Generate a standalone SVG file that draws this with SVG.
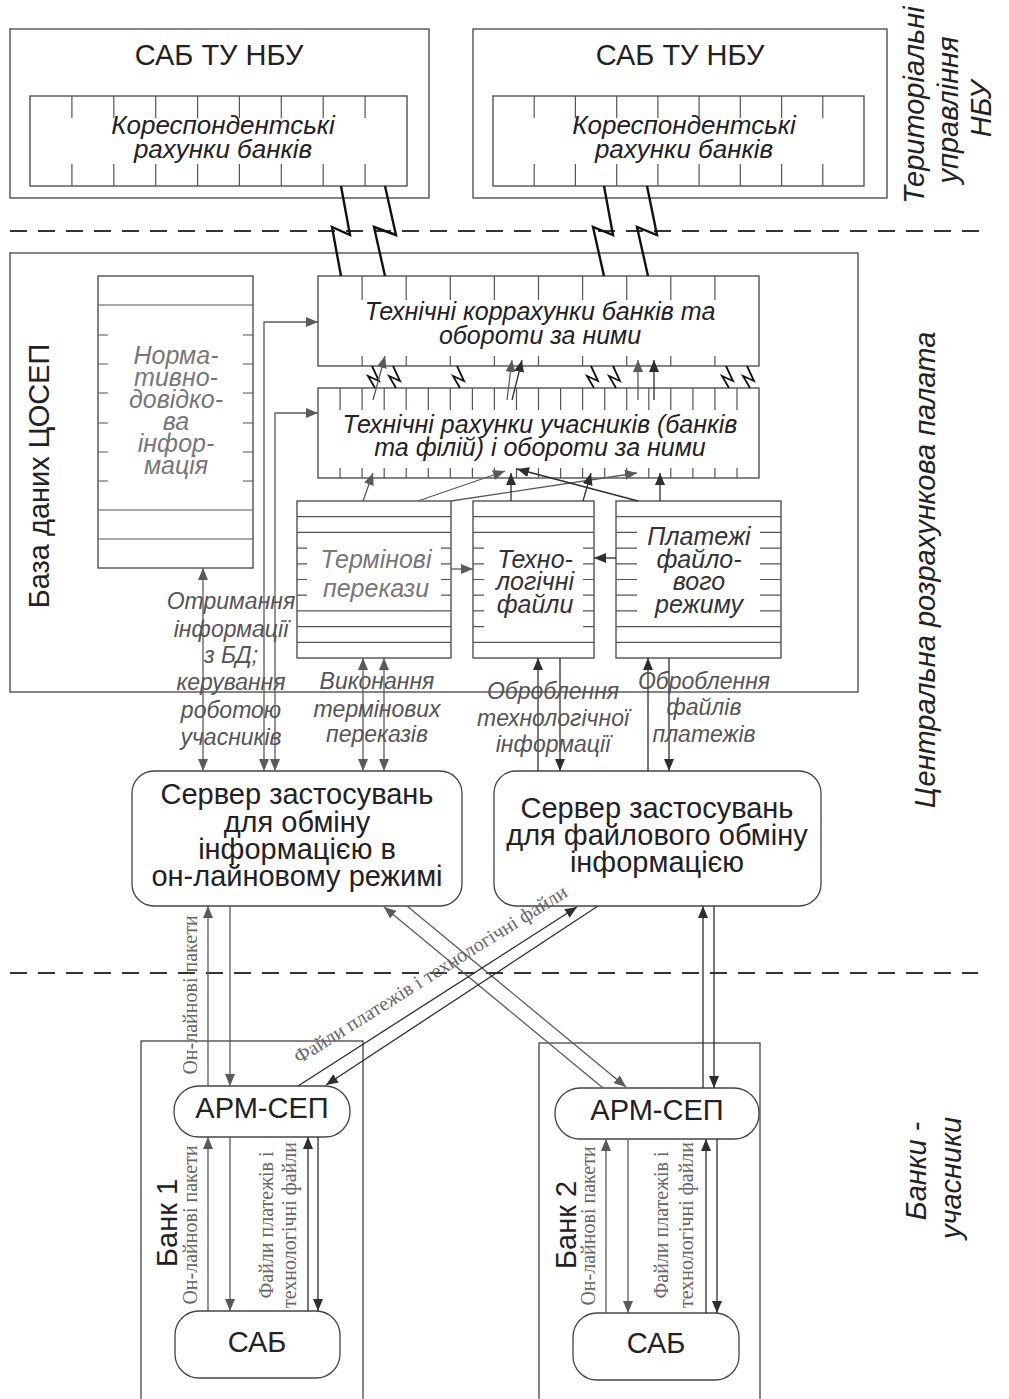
<svg xmlns="http://www.w3.org/2000/svg" width="1009" height="1399" viewBox="0 0 1009 1399">
<style>
.bx{fill:none;stroke:#444;stroke-width:1.3}
.bxw{fill:#fff;stroke:#444;stroke-width:1.3}
.tk{fill:none;stroke:#555;stroke-width:1.2}
.sans{font-family:"Liberation Sans",Arial,sans-serif}
.serif{font-family:"Liberation Serif","Times New Roman",serif;font-size:20px;fill:#666}
.it{font-style:italic}
.c{text-anchor:middle}
.big{font-size:29px;fill:#222}
.side{font-size:29px;fill:#222;font-style:italic}
.tech{font-size:25px;fill:#222;font-style:italic}
.grey{font-size:25px;fill:#777;font-style:italic}
.dark{font-size:25px;fill:#333;font-style:italic}
.lbl{font-size:23px;fill:#555;font-style:italic}
.cg{fill:none;stroke:#5a5a5a;stroke-width:1.3}
.cd{fill:none;stroke:#2e2e2e;stroke-width:1.3}
.bolt{fill:none;stroke:#111;stroke-width:2.4;stroke-linejoin:miter}
.bolts{fill:none;stroke:#111;stroke-width:1.8;stroke-linejoin:miter}
.dash{stroke:#333;stroke-width:2;stroke-dasharray:17 11}
</style>
<defs>
<marker id="ag" markerUnits="userSpaceOnUse" markerWidth="12" markerHeight="10" viewBox="0 0 12 10" refX="12" refY="5" orient="auto-start-reverse"><path d="M0,0 L12,5 L0,10 z" fill="#5a5a5a"/></marker>
<marker id="ad" markerUnits="userSpaceOnUse" markerWidth="12" markerHeight="10" viewBox="0 0 12 10" refX="12" refY="5" orient="auto-start-reverse"><path d="M0,0 L12,5 L0,10 z" fill="#2e2e2e"/></marker>
</defs>
<rect width="1009" height="1399" fill="#fff"/>

<!-- zone separators -->
<g id="separators">
<line class="dash" x1="10" y1="231" x2="982" y2="231"/>
<line class="dash" x1="10" y1="973" x2="978" y2="973"/>
</g>

<!-- zone labels -->
<g id="zone-labels" class="sans">
<text class="side c" transform="translate(924,105) rotate(-90)">Територіальні</text>
<text class="side c" transform="translate(958,110) rotate(-90)">управління</text>
<text class="side c" transform="translate(991,109) rotate(-90)">НБУ</text>
<text class="side c" transform="translate(935,570) rotate(-90)">Центральна розрахункова палата</text>
<text class="side c" transform="translate(926,1171) rotate(-90)">Банки -</text>
<text class="side c" transform="translate(961,1178) rotate(-90)">учасники</text>
</g>

<!-- NBU territorial boxes -->
<g id="sab-tu-1">
<rect class="bx" x="10" y="29" width="419" height="169"/>
<text class="sans big c" x="219" y="65">САБ ТУ НБУ</text>
<rect class="bx" x="30" y="96" width="377" height="90"/>
<path class="tk" d="M71.9,96V118M71.9,164V186M113.8,96V118M113.8,164V186M155.7,96V118M155.7,164V186M197.6,96V118M197.6,164V186M239.4,96V118M239.4,164V186M281.3,96V118M281.3,164V186M323.2,96V118M323.2,164V186M365.1,96V118M365.1,164V186"/>
<text class="sans it c" font-size="26" fill="#222" x="223" y="134">Кореспондентські</text>
<text class="sans it c" font-size="26" fill="#222" x="223" y="158">рахунки банків</text>
</g>
<g id="sab-tu-2">
<rect class="bx" x="473" y="29" width="414" height="169"/>
<text class="sans big c" x="680" y="65">САБ ТУ НБУ</text>
<rect class="bx" x="493" y="96" width="371" height="90"/>
<path class="tk" d="M534.2,96V118M534.2,164V186M575.4,96V118M575.4,164V186M616.7,96V118M616.7,164V186M657.9,96V118M657.9,164V186M699.1,96V118M699.1,164V186M740.3,96V118M740.3,164V186M781.6,96V118M781.6,164V186M822.8,96V118M822.8,164V186"/>
<text class="sans it c" font-size="26" fill="#222" x="684" y="134">Кореспондентські</text>
<text class="sans it c" font-size="26" fill="#222" x="684" y="158">рахунки банків</text>
</g>

<!-- CRP database -->
<g id="db-cosep">
<rect class="bx" x="10" y="253" width="848" height="439"/>
<text class="sans big c" transform="translate(49,476) rotate(-90)">База даних ЦОСЕП</text>
</g>

<g id="normative">
<rect class="bx" x="98" y="276" width="155" height="292"/>
<path class="tk" d="M98,305H253M98,510H253M98,539H253M98,335H108M243,335H253M98,364H108M243,364H253M98,393H108M243,393H253M98,423H108M243,423H253M98,452H108M243,452H253M98,481H108M243,481H253"/>
<g class="sans grey c">
<text x="176" y="364">Норма-</text>
<text x="176" y="386">тивно-</text>
<text x="176" y="408">довідко-</text>
<text x="176" y="430">ва</text>
<text x="176" y="452">інфор-</text>
<text x="176" y="474">мація</text>
</g>
</g>

<g id="tech-corr">
<rect class="bx" x="318" y="276" width="441" height="90"/>
<path class="tk" d="M362.1,276V300M362.1,356V366M406.2,276V300M406.2,356V366M450.3,276V300M450.3,356V366M494.4,276V300M494.4,356V366M538.5,276V300M538.5,356V366M582.6,276V300M582.6,356V366M626.7,276V300M626.7,356V366M670.8,276V300M670.8,356V366M714.9,276V300M714.9,356V366"/>
<text class="sans tech c" x="540" y="320">Технічні коррахунки банків та</text>
<text class="sans tech c" x="540" y="344">обороти за ними</text>
</g>

<g id="tech-participants">
<rect class="bx" x="318" y="388" width="441" height="90"/>
<path class="tk" d="M340.1,388V410M340.1,468V478M362.1,388V410M362.1,468V478M384.2,388V410M384.2,468V478M406.2,388V410M406.2,468V478M428.3,388V410M428.3,468V478M450.3,388V410M450.3,468V478M472.4,388V410M472.4,468V478M494.4,388V410M494.4,468V478M516.5,388V410M516.5,468V478M538.5,388V410M538.5,468V478M560.6,388V410M560.6,468V478M582.6,388V410M582.6,468V478M604.7,388V410M604.7,468V478M626.7,388V410M626.7,468V478M648.8,388V410M648.8,468V478M670.8,388V410M670.8,468V478M692.9,388V410M692.9,468V478M714.9,388V410M714.9,468V478M737,388V410M737,468V478"/>
<text class="sans tech c" x="540" y="433">Технічні рахунки учасників (банків</text>
<text class="sans tech c" x="540" y="456">та філій) і обороти за ними</text>
</g>

<g id="term-transfers">
<rect class="bx" x="297" y="501" width="154" height="157"/>
<path class="tk" d="M297,516.7H451M297,532.4H451M297,610.9H451M297,626.6H451M297,642.3H451M297,548.1H307M441,548.1H451M297,563.8H307M441,563.8H451M297,579.5H307M441,579.5H451M297,595.2H307M441,595.2H451"/>
<text class="sans grey c" x="376" y="568">Термінові</text>
<text class="sans grey c" x="376" y="597">перекази</text>
</g>

<g id="tech-files">
<rect class="bx" x="473" y="501" width="121" height="157"/>
<path class="tk" d="M473,516.7H594M473,532.4H594M473,642.3H594M473,548.1H484M583,548.1H594M473,563.8H484M583,563.8H594M473,579.5H484M583,579.5H594M473,595.2H484M583,595.2H594M473,610.9H484M583,610.9H594M473,626.6H484M583,626.6H594"/>
<text class="sans dark c" x="535" y="568">Техно-</text>
<text class="sans dark c" x="535" y="590">логічні</text>
<text class="sans dark c" x="535" y="613">файли</text>
</g>

<g id="file-payments">
<rect class="bx" x="616" y="501" width="165" height="157"/>
<path class="tk" d="M616,516.7H781M616,626.6H781M616,642.3H781M616,532.4H637M760,532.4H781M616,548.1H637M760,548.1H781M616,563.8H637M760,563.8H781M616,579.5H637M760,579.5H781M616,595.2H637M760,595.2H781M616,610.9H637M760,610.9H781"/>
<text class="sans dark c" x="699" y="545">Платежі</text>
<text class="sans dark c" x="699" y="568">файло-</text>
<text class="sans dark c" x="699" y="590">вого</text>
<text class="sans dark c" x="699" y="613">режиму</text>
</g>

<!-- servers -->
<g id="server-online">
<rect class="bxw" x="132" y="771" width="330" height="135" rx="22"/>
<g class="sans big c">
<text x="297" y="804">Сервер застосувань</text>
<text x="297" y="832">для обміну</text>
<text x="297" y="859">інформацією в</text>
<text x="297" y="886">он-лайновому режимі</text>
</g>
</g>
<g id="server-file">
<rect class="bxw" x="494" y="771" width="327" height="135" rx="22"/>
<g class="sans big c">
<text x="657" y="818">Сервер застосувань</text>
<text x="657" y="845">для файлового обміну</text>
<text x="657" y="872">інформацією</text>
</g>
</g>

<!-- banks -->
<g id="bank-1">
<rect class="bx" x="141" y="1041" width="222" height="370"/>
<text class="sans big c" transform="translate(177,1223) rotate(-90)">Банк 1</text>
</g>
<g id="arm-sep-1">
<rect class="bxw" x="174" y="1086" width="176" height="51" rx="25"/>
<text class="sans big c" x="262" y="1118">АРМ-СЕП</text>
</g>
<g id="sab-1">
<rect class="bxw" x="175" y="1311" width="165" height="67" rx="24"/>
<text class="sans big c" x="257" y="1352">САБ</text>
</g>
<g id="bank-2">
<rect class="bx" x="539" y="1043" width="221" height="370"/>
<text class="sans big c" transform="translate(576,1225) rotate(-90)">Банк 2</text>
</g>
<g id="arm-sep-2">
<rect class="bxw" x="555" y="1088" width="204" height="51" rx="25"/>
<text class="sans big c" x="657" y="1120">АРМ-СЕП</text>
</g>
<g id="sab-2">
<rect class="bxw" x="573" y="1313" width="166" height="67" rx="24"/>
<text class="sans big c" x="656" y="1353">САБ</text>
</g>

<!-- connectors -->
<g id="connectors">
<!-- lightning links -->
<polyline class="bolt" points="341,186 350,235 332,227 341,276"/>
<polyline class="bolt" points="385,186 396,235 374,227 385,276"/>
<polyline class="bolt" points="604,186 613,235 593,227 604,276"/>
<polyline class="bolt" points="647,186 657,235 637,227 648,276"/>
<polyline class="bolts" points="372,366 379,381 368,376 375,388"/>
<polyline class="bolts" points="393,366 400,381 389,376 396,388"/>
<polyline class="bolts" points="457,366 464,381 453,376 460,388"/>
<polyline class="bolts" points="591,366 598,381 587,376 594,388"/>
<polyline class="bolts" points="613,366 620,381 609,376 616,388"/>
<polyline class="bolts" points="726,366 733,381 722,376 729,388"/>
<polyline class="bolts" points="747,366 754,381 743,376 750,388"/>
<!-- between tech boxes -->
<line class="cg" x1="373" y1="400" x2="385" y2="356" marker-end="url(#ag)"/>
<line class="cg" x1="507" y1="400" x2="512" y2="360" marker-end="url(#ag)"/>
<line class="cd" x1="512" y1="400" x2="522" y2="360" marker-end="url(#ad)"/>
<line class="cg" x1="638" y1="400" x2="638" y2="360" marker-end="url(#ag)"/>
<line class="cd" x1="654" y1="400" x2="654" y2="360" marker-end="url(#ad)"/>
<!-- from file boxes to participants accounts -->
<line class="cg" x1="363" y1="501" x2="373" y2="473" marker-end="url(#ag)"/>
<line class="cg" x1="418" y1="501" x2="505" y2="471" marker-end="url(#ag)"/>
<line class="cg" x1="451" y1="501" x2="637" y2="473" marker-end="url(#ag)"/>
<line class="cd" x1="511" y1="501" x2="511" y2="473" marker-end="url(#ad)"/>
<line class="cd" x1="583" y1="501" x2="591" y2="473" marker-end="url(#ad)"/>
<line class="cd" x1="638" y1="501" x2="517" y2="469" marker-end="url(#ad)"/>
<line class="cd" x1="660" y1="501" x2="660" y2="473" marker-end="url(#ad)"/>
<line class="cg" x1="451" y1="569" x2="473" y2="569" marker-end="url(#ag)"/>
<line class="cd" x1="616" y1="558" x2="594" y2="558" marker-end="url(#ad)"/>
<!-- online server to DB -->
<line class="cg" x1="203" y1="771" x2="203" y2="568" marker-start="url(#ag)" marker-end="url(#ag)"/>
<path class="cg" d="M264,771V322H318" marker-start="url(#ag)" marker-end="url(#ag)"/>
<path class="cg" d="M275,771V413H318" marker-start="url(#ag)" marker-end="url(#ag)"/>
<line class="cg" x1="363" y1="771" x2="363" y2="658" marker-start="url(#ag)" marker-end="url(#ag)"/>
<line class="cg" x1="384" y1="771" x2="384" y2="658" marker-start="url(#ag)" marker-end="url(#ag)"/>
<!-- file server to DB -->
<line class="cd" x1="538" y1="771" x2="538" y2="658" marker-end="url(#ad)"/>
<line class="cd" x1="560" y1="658" x2="560" y2="771" marker-end="url(#ad)"/>
<line class="cd" x1="648" y1="771" x2="648" y2="658" marker-end="url(#ad)"/>
<line class="cd" x1="669" y1="658" x2="669" y2="771" marker-end="url(#ad)"/>
<!-- servers to banks -->
<line class="cg" x1="208" y1="1086" x2="208" y2="906" marker-end="url(#ag)"/>
<line class="cg" x1="230" y1="906" x2="230" y2="1086" marker-end="url(#ag)"/>
<line class="cg" x1="603" y1="1088" x2="384" y2="907" marker-end="url(#ag)"/>
<line class="cg" x1="407" y1="906" x2="626" y2="1087" marker-end="url(#ag)"/>
<line class="cd" x1="298" y1="1086" x2="577" y2="907" marker-end="url(#ad)"/>
<line class="cd" x1="598" y1="906" x2="326" y2="1085" marker-end="url(#ad)"/>
<line class="cd" x1="703" y1="1088" x2="703" y2="906" marker-end="url(#ad)"/>
<line class="cd" x1="714" y1="906" x2="714" y2="1088" marker-end="url(#ad)"/>
<!-- inside bank 1 -->
<line class="cg" x1="208" y1="1311" x2="208" y2="1137" marker-end="url(#ag)"/>
<line class="cg" x1="230" y1="1137" x2="230" y2="1311" marker-end="url(#ag)"/>
<line class="cd" x1="308" y1="1311" x2="308" y2="1137" marker-end="url(#ad)"/>
<line class="cd" x1="318" y1="1137" x2="318" y2="1311" marker-end="url(#ad)"/>
<!-- inside bank 2 -->
<line class="cg" x1="606" y1="1313" x2="606" y2="1139" marker-end="url(#ag)"/>
<line class="cg" x1="628" y1="1139" x2="628" y2="1313" marker-end="url(#ag)"/>
<line class="cd" x1="706" y1="1313" x2="706" y2="1139" marker-end="url(#ad)"/>
<line class="cd" x1="717" y1="1139" x2="717" y2="1313" marker-end="url(#ad)"/>
</g>

<!-- connector labels -->
<g id="connector-labels">
<g class="sans lbl c">
<text x="231" y="609">Отримання</text>
<text x="231" y="637">інформації</text>
<text x="231" y="663">з БД;</text>
<text x="231" y="690">керування</text>
<text x="231" y="718">роботою</text>
<text x="231" y="745">учасників</text>
<text x="377" y="689">Виконання</text>
<text x="377" y="717">термінових</text>
<text x="377" y="742">переказів</text>
<text x="553" y="699">Оброблення</text>
<text x="553" y="726">технологічної</text>
<text x="553" y="752">інформації</text>
<text x="704" y="689">Оброблення</text>
<text x="704" y="715">файлів</text>
<text x="704" y="742">платежів</text>
</g>
<g class="serif" text-anchor="middle">
<text transform="translate(197,995) rotate(-90)">Он-лайнові пакети</text>
<text transform="translate(434,980) rotate(-32)">Файли платежів і технологічні файли</text>
<text transform="translate(197,1225) rotate(-90)">Он-лайнові пакети</text>
<text transform="translate(273,1225) rotate(-90)">Файли платежів і</text>
<text transform="translate(296,1225) rotate(-90)">технологічні файли</text>
<text transform="translate(595,1226) rotate(-90)">Он-лайнові пакети</text>
<text transform="translate(668,1225) rotate(-90)">Файли платежів і</text>
<text transform="translate(693,1225) rotate(-90)">технологічні файли</text>
</g>
</g>
</svg>
